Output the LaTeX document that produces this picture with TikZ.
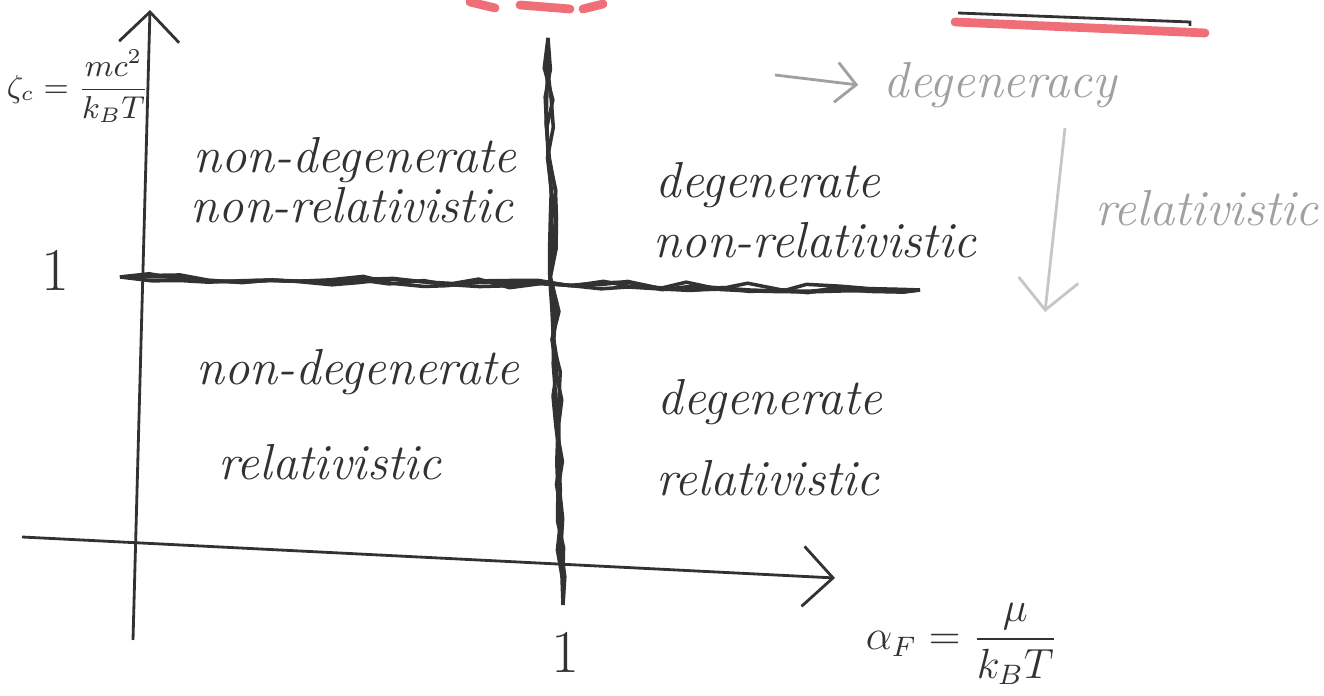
\documentclass[tikz,border=0pt]{standalone}
\usepackage{amsmath}
\usepackage{amssymb}
\usepackage{tikz}
\usetikzlibrary{decorations.pathmorphing}
\usetikzlibrary{arrows.meta}

\definecolor{ink}{RGB}{50,50,50}
\definecolor{pencil}{RGB}{160,160,160}
\definecolor{marker}{RGB}{240,110,120}

\tikzset{
  axis/.style={-{Straight Barb[length=3mm]},ink,thick},
  scribble/.style={ink,line width=1pt,decorate,decoration={random steps,segment length=3mm,amplitude=1.3pt}},
  region/.style={ink,font=\Large\itshape,inner sep=0pt},
  faint/.style={pencil,font=\Large\itshape,inner sep=0pt},
}

\begin{document}
\begin{tikzpicture}[x=1cm,y=1cm]

  \useasboundingbox (0,0) rectangle (13.24,6.96);

  \coordinate (y0) at (1.33, 0.56);
  \coordinate (y1) at (1.50, 6.86);

  \coordinate (x0) at (0.22, 1.59);
  \coordinate (x1) at (8.35, 1.18);

  \coordinate (h1) at (1.20, 4.19);
  \coordinate (h2) at (9.20, 4.06);

  \coordinate (v1) at (5.48, 6.58);
  \coordinate (v2) at (5.63, 0.91);

  \draw[axis] (y0) -- (y1);
  \draw[axis] (x0) -- (x1);

    \foreach \s in {1,...,4} {
       \pgfmathsetseed{\s}
       \draw[scribble] (h1) -- (h2);
       \draw[scribble] (v1) -- (v2);
    }

  \node[ink,font=\LARGE] (one1) at (0.55, 4.26) {1};
  \node[ink,font=\LARGE] (one2) at (5.65, 0.44) {1};

  \node[ink,font=\small] (ylab) at (0.78, 6.10) {$\zeta_c=\dfrac{mc^2}{k_BT}$};
  \node[ink,font=\large] (xlab) at (9.62, 0.52) {$\alpha_F=\dfrac{\mu}{k_BT}$};

  \node[region] (ndnr1) at (3.55, 5.36) {non-degenerate};
  \node[region] (ndnr2) at (3.52, 4.91) {non-relativistic};
  \node[region] (dnr1)  at (7.68, 5.11) {degenerate};
  \node[region] (dnr2)  at (8.15, 4.56) {non-relativistic};
  \node[region] (ndr1)  at (3.58, 3.24) {non-degenerate};
  \node[region] (ndr2)  at (3.30, 2.34) {relativistic};
  \node[region] (dr1)   at (7.70, 2.94) {degenerate};
  \node[region] (dr2)   at (7.68, 2.18) {relativistic};

  % side notes in pencil
  \coordinate (g0) at (7.75, 6.21);
  \node[faint] (degen) at (10.00, 6.11) {degeneracy};
  \draw[-{Straight Barb[length=2mm]},pencil,thick] (g0) -- ([xshift=-2.5mm]degen.west);

  \coordinate (r0) at (10.65, 5.68);
  \coordinate (r1) at (10.45, 3.84);
  \node[faint] (relat) at (12.07, 4.88) {relativistic};
  \draw[-{Straight Barb[length=3mm]},pencil!60,thick] (r0) -- (r1);

  % remains of the line above
  \draw[marker,line width=2.5pt,line cap=round] (4.70,6.94) -- (4.95,6.88);
  \draw[marker,line width=2.5pt,line cap=round] (5.20,6.91) -- (5.70,6.87);
  \draw[marker,line width=2.5pt,line cap=round] (5.83,6.87) -- (6.03,6.92);
  \draw[ink,thick] (9.58,6.83) -- (11.90,6.74) -- (11.90,6.70);
  \draw[marker,line width=2.5pt,line cap=round] (9.55,6.74) -- (12.05,6.63);

  \end{tikzpicture}
\end{document}
